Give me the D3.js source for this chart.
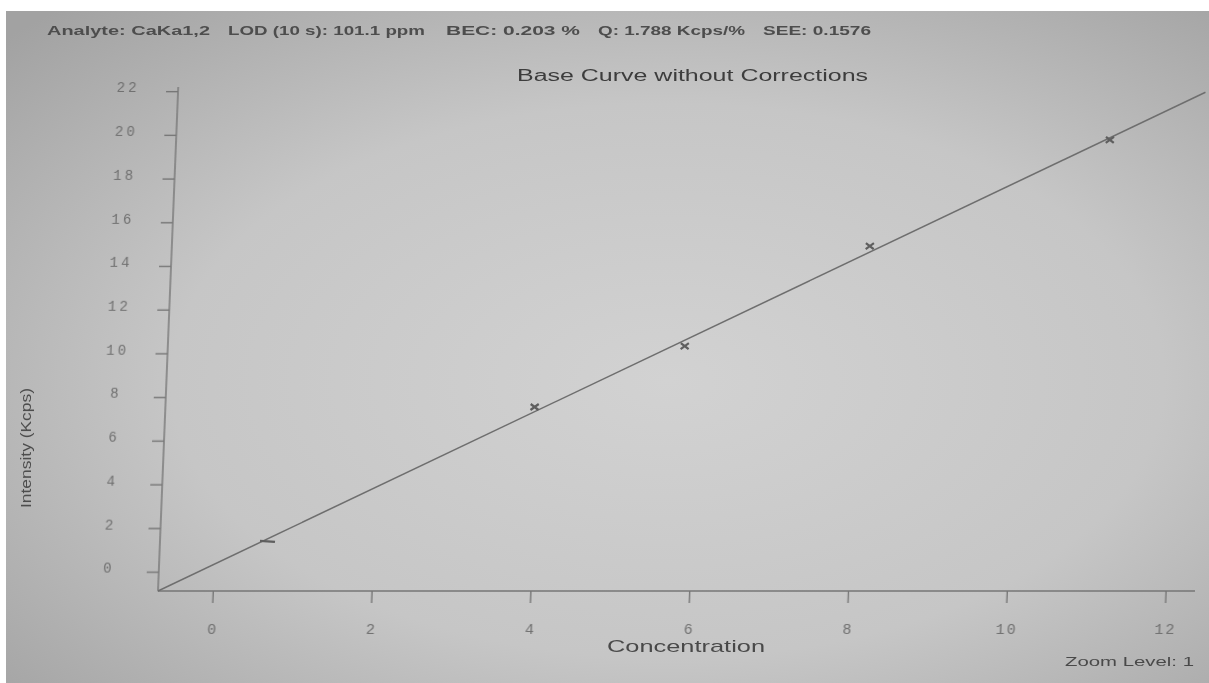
<!DOCTYPE html>
<html>
<head>
<meta charset="utf-8">
<script src="https://cdn.jsdelivr.net/npm/d3@7"></script>
<style>
  html, body { margin: 0; padding: 0; background: #fff; }
  #vis { width: 1209px; height: 683px; }
</style>
</head>
<body>
<div id="vis"></div>
<script>
// calibration standards (concentration %, intensity Kcps)
var concentration = [0.67, 3.96, 5.82, 8.10, 11.07];
var intensity = [1.41, 7.54, 10.33, 14.91, 19.77];
var markerKind = ["dash", "cross", "cross", "cross", "cross"];

// fitted base curve end points
var fitX = [-0.69, 12.25];
var fitY = [-0.884, 21.95];

var xTicks = [0, 2, 4, 6, 8, 10, 12];
var yTicks = [0, 2, 4, 6, 8, 10, 12, 14, 16, 18, 20, 22];

var headerParts = [
    {text: "Analyte: CaKa1,2", x: 47, len: 163},
    {text: "LOD (10 s): 101.1 ppm", x: 228, len: 197},
    {text: "BEC: 0.203 %", x: 446, len: 134},
    {text: "Q: 1.788 Kcps/%", x: 598, len: 147},
    {text: "SEE: 0.1576", x: 763, len: 108}
];

var w = 1209, h = 683;
var baseY = 591;

var svg = d3.select("#vis").append("svg")
    .attr("width", w)
    .attr("height", h);

// photo background
var defs = svg.append("defs");
var grad = defs.append("radialGradient")
    .attr("id", "paper")
    .attr("cx", "55%").attr("cy", "55%").attr("r", "75%");
grad.append("stop").attr("offset", "0%").attr("stop-color", "#d2d2d2");
grad.append("stop").attr("offset", "55%").attr("stop-color", "#c6c6c6");
grad.append("stop").attr("offset", "100%").attr("stop-color", "#a2a2a2");

defs.append("filter").attr("id", "soft")
    .append("feGaussianBlur").attr("stdDeviation", 0.45);

svg.append("rect").attr("width", w).attr("height", h).attr("fill", "#fff");
svg.append("rect")
    .attr("x", 6).attr("y", 11)
    .attr("width", w - 6).attr("height", h - 11)
    .attr("fill", "url(#paper)");

var x = d3.scaleLinear().domain([-0.69, 12.5]).range([158, 1205.3]);
var y = d3.scaleLinear().domain([-0.884, 22.19]).range([baseY, 87]);

var ink = svg.append("g").attr("filter", "url(#soft)");

// the photo is slightly skewed, lean the plot like it
var g = ink.append("g")
    .attr("transform", "translate(0," + baseY + ") skewX(-2.3) translate(0," + (-baseY) + ")");

var xAxis = g.append("g")
    .attr("transform", "translate(0," + baseY + ")")
    .call(d3.axisBottom(x).tickValues(xTicks).tickSizeInner(12).tickSizeOuter(0).tickPadding(20));

xAxis.select(".domain")
    .attr("d", "M" + x(-0.69) + ",0H" + 1195);

var yAxis = g.append("g")
    .attr("transform", "translate(" + x(-0.69) + ",0)")
    .call(d3.axisLeft(y).tickValues(yTicks).tickSizeInner(12).tickSizeOuter(0).tickPadding(34));

yAxis.select(".domain")
    .attr("d", "M0," + baseY + "V" + 87);

g.selectAll(".domain, .tick line")
    .attr("stroke", "#767676")
    .attr("stroke-width", 1.4);

xAxis.selectAll(".tick text")
    .attr("font-family", "Liberation Mono")
    .attr("font-size", 15)
    .attr("letter-spacing", 2)
    .attr("dx", 1)
    .attr("fill", "#707070");

yAxis.selectAll(".tick text")
    .attr("font-family", "Liberation Mono")
    .attr("font-size", 14)
    .attr("letter-spacing", 3)
    .attr("text-anchor", "middle")
    .attr("x", -50)
    .attr("dy", "0.05em")
    .attr("fill", "#707070");

// base curve
g.append("line")
    .attr("x1", x(fitX[0])).attr("y1", y(fitY[0]))
    .attr("x2", x(fitX[1])).attr("y2", y(fitY[1]))
    .attr("stroke", "#6e6e6e")
    .attr("stroke-width", 1.5);

// standards
var pts = concentration.map(function (c, i) {
    return {x: c, y: intensity[i], kind: markerKind[i]};
});

g.selectAll("path.pt")
    .data(pts)
    .enter().append("path")
    .attr("class", "pt")
    .attr("transform", function (d) {
        return "translate(" + [x(d.x), y(d.y)] + ")";
    })
    .attr("d", function (d) {
        if (d.kind == "dash") return "M-8,0L7,1";
        return "M-4,-3L4,3M-4,3L4,-3";
    })
    .attr("fill", "none")
    .attr("stroke", "#5e5e5e")
    .attr("stroke-width", 2.2);

// texts
ink.selectAll("text.head")
    .data(headerParts)
    .enter().append("text")
    .attr("class", "head")
    .attr("x", function (d) { return d.x; })
    .attr("y", 35)
    .attr("textLength", function (d) { return d.len; })
    .attr("lengthAdjust", "spacingAndGlyphs")
    .attr("font-family", "Liberation Sans")
    .attr("font-size", 13)
    .attr("font-weight", "bold")
    .attr("fill", "#4e4e4e")
    .text(function (d) { return d.text; });

ink.append("text")
    .attr("x", 517).attr("y", 81)
    .attr("textLength", 351)
    .attr("lengthAdjust", "spacingAndGlyphs")
    .attr("font-family", "Liberation Sans")
    .attr("font-size", 16)
    .attr("fill", "#3c3c3c")
    .text("Base Curve without Corrections");

ink.append("text")
    .attr("x", 607).attr("y", 652)
    .attr("textLength", 158)
    .attr("lengthAdjust", "spacingAndGlyphs")
    .attr("font-family", "Liberation Sans")
    .attr("font-size", 17)
    .attr("fill", "#4a4a4a")
    .text("Concentration");

ink.append("text")
    .attr("x", 1065).attr("y", 666)
    .attr("textLength", 129)
    .attr("lengthAdjust", "spacingAndGlyphs")
    .attr("font-family", "Liberation Sans")
    .attr("font-size", 13)
    .attr("fill", "#4a4a4a")
    .text("Zoom Level: 1");

ink.append("text")
    .attr("transform", "translate(31,448) rotate(-90)")
    .attr("text-anchor", "middle")
    .attr("textLength", 120)
    .attr("lengthAdjust", "spacingAndGlyphs")
    .attr("font-family", "Liberation Sans")
    .attr("font-size", 14)
    .attr("fill", "#4e4e4e")
    .text("Intensity  (Kcps)");
</script>
</body>
</html>
